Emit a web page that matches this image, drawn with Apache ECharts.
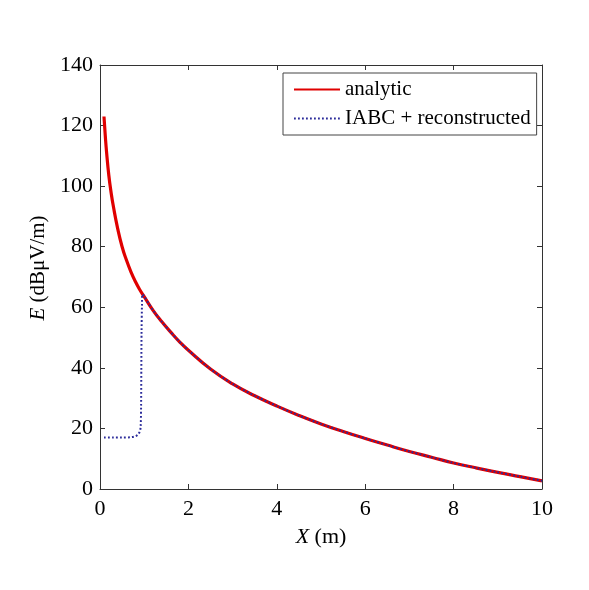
<!DOCTYPE html>
<html>
<head>
    <meta charset="utf-8">
    <title>ECharts</title>
    <script src="https://cdn.jsdelivr.net/npm/echarts@6/dist/echarts.min.js"></script>
    <style>
        html, body { margin: 0; padding: 0; background: #fff; }
    </style>
</head>
<body>
    <div id="main" style="width: 589px;height:590px;"></div>
    <script type="text/javascript">
        // values
        var analyticX = [0.09, 0.12, 0.15, 0.2, 0.25, 0.3, 0.4, 0.5, 0.6, 0.7, 0.8, 0.9, 1.0,
                         1.2, 1.4, 1.6, 1.8, 2.0, 2.5, 3.0, 3.5, 4.0, 4.5, 5.0, 5.5, 6.0,
                         6.5, 7.0, 7.5, 8.0, 8.5, 9.0, 9.5, 10.0];
        var analyticY = [123, 116.5, 111, 103.5, 98, 93.5, 86, 80, 75.5, 71.7, 68.5, 65.8, 63.5,
                         59, 55.2, 51.8, 48.6, 45.8, 39.6, 34.7, 30.8, 27.4, 24.3, 21.5, 19, 16.7,
                         14.5, 12.4, 10.5, 8.6, 7.0, 5.5, 4.1, 2.7];

        // IABC + reconstructed: flat part and jump, then it lies on the analytic curve
        var iabcHeadX = [0.09, 0.3, 0.5, 0.7, 0.8, 0.86, 0.9, 0.92, 0.93, 0.935, 0.94, 0.95, 0.96];
        var iabcHeadY = [17, 17, 17, 17.1, 17.4, 18, 19, 20.5, 28, 40, 52, 61, 64.3];
        var iabcTailStart = 12; // index in analyticX where the reconstructed field joins

        var analyticData = analyticX.map(function (x, i) { return [x, analyticY[i]]; });
        var iabcData = iabcHeadX.map(function (x, i) { return [x, iabcHeadY[i]]; })
            .concat(analyticData.slice(iabcTailStart + 1));

        var font = 'Liberation Serif';
        var axisColor = '#333';
        var textColor = '#000';

        function frameAxis(extra) {
            var a = {
                type: 'value',
                axisLine: { show: true, onZero: false, lineStyle: { color: axisColor, width: 1 } },
                axisTick: { show: true, inside: true, length: 5, lineStyle: { color: axisColor } },
                axisLabel: { show: false },
                splitLine: { show: false }
            };
            for (var k in extra) a[k] = extra[k];
            return a;
        }

        var myChart = echarts.init(document.getElementById('main'));

        var option = {
            backgroundColor: '#fff',
            animation: false,
            textStyle: { fontFamily: font },
            grid: { left: 100, right: 47, top: 65, bottom: 101 },
            legend: {
                orient: 'vertical',
                left: 283,
                top: 73,
                padding: [6, 6, 6, 10],
                itemGap: 8,
                itemWidth: 46,
                itemHeight: 20,
                borderColor: '#444',
                borderWidth: 1,
                backgroundColor: '#fff',
                itemStyle: { opacity: 0 },
                textStyle: { fontFamily: font, fontSize: 21, color: textColor },
                data: ['analytic', 'IABC + reconstructed']
            },
            xAxis: [frameAxis({
                min: 0, max: 10, interval: 2,
                name: '{i|X} (m)',
                nameLocation: 'middle',
                nameGap: 37,
                nameTextStyle: {
                    fontFamily: font, fontSize: 22, color: textColor,
                    rich: { i: { fontStyle: 'italic', fontFamily: font, fontSize: 22, color: textColor } }
                },
                axisLabel: { show: true, fontFamily: font, fontSize: 22, color: textColor, margin: 9 }
            }), frameAxis({
                position: 'top',
                min: 0, max: 10, interval: 2
            })],
            yAxis: [frameAxis({
                min: 0, max: 140, interval: 20,
                name: '{i|E} (dBμV/m)',
                nameLocation: 'middle',
                nameGap: 49,
                nameTextStyle: {
                    fontFamily: font, fontSize: 21, color: textColor,
                    padding: [0, 0, 0, 18],
                    rich: { i: { fontStyle: 'italic', fontFamily: font, fontSize: 21, color: textColor } }
                },
                axisLabel: { show: true, fontFamily: font, fontSize: 22, color: textColor, margin: 7 }
            }), frameAxis({
                position: 'right',
                min: 0, max: 140, interval: 20
            })],
            series: [{
                name: 'analytic',
                type: 'line',
                symbol: 'none',
                smooth: true,
                data: analyticData,
                lineStyle: { color: '#e00000', width: 3.2 },
                itemStyle: { color: '#e00000' },
                z: 2
            }, {
                name: 'IABC + reconstructed',
                type: 'line',
                symbol: 'none',
                smooth: 0.3,
                data: iabcData,
                lineStyle: { color: '#2b2b9a', width: 2, type: [1.8, 2.2] },
                itemStyle: { color: '#2b2b9a' },
                z: 3
            }]
        };

        myChart.setOption(option);
    </script>
</body>
</html>
